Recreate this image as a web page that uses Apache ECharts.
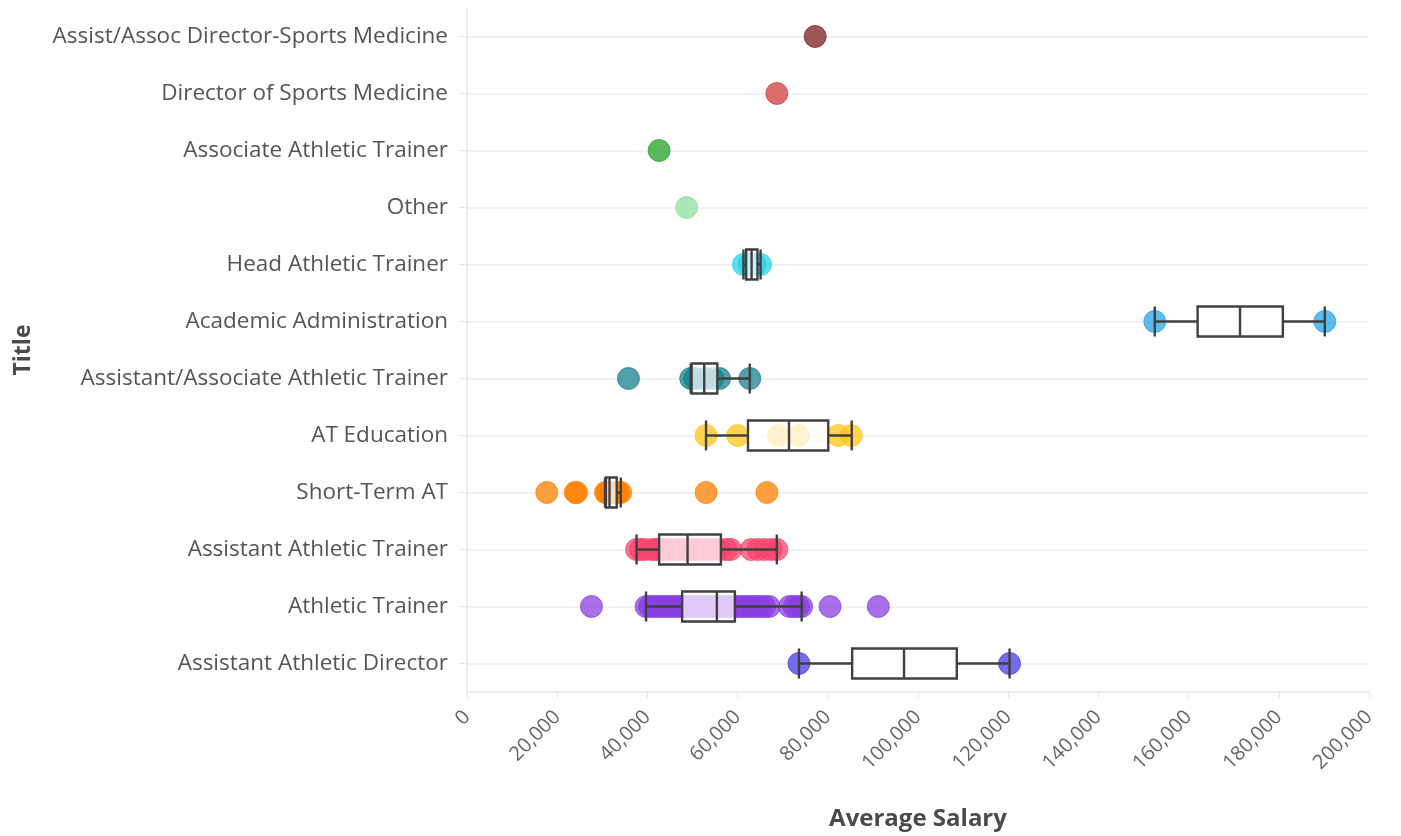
<!DOCTYPE html>
<html>
<head>
<meta charset="utf-8">
<style>
  html, body { margin: 0; padding: 0; background: #fff; }
  #main { width: 1401px; height: 836px; }
</style>
<script src="https://cdn.jsdelivr.net/npm/echarts@6/dist/echarts.min.js"></script>
</head>
<body>
<div id="main"></div>
<script>
// job titles, top to bottom
var titles = [
  'Assist/Assoc Director-Sports Medicine',
  'Director of Sports Medicine',
  'Associate Athletic Trainer',
  'Other',
  'Head Athletic Trainer',
  'Academic Administration',
  'Assistant/Associate Athletic Trainer',
  'AT Education',
  'Short-Term AT',
  'Assistant Athletic Trainer',
  'Athletic Trainer',
  'Assistant Athletic Director'
];

// average salary of each school, one list per title
var assocDirSportsMed = [77200];
var dirSportsMed = [68700];
var assocAT = [42600];
var otherTitle = [48700];
var headAT = [61300, 62500, 63100, 63900, 65100];
var academicAdmin = [152500, 190200];
var asstAssocAT = [35800, 49600, 50500, 52600, 54500, 56000, 62700];
var atEducation = [53000, 60000, 69000, 73500, 82300, 85200];
var shortTermAT = [17700, 24000, 24300, 30700, 31000, 31300, 31600, 32000, 33000, 33600, 34100, 53000, 66500];
var asstAT = [37600, 38500, 39500, 41000, 42000, 42600, 43500, 44500, 45500, 46500, 47500, 48500, 49000,
  50000, 51000, 52000, 53000, 54000, 55000, 56000, 57500, 58500, 63000, 64500, 66000, 67500, 68700];
var athleticTrainer = [27600, 39700, 40500, 41500, 42500, 43500, 44500, 45500, 46500, 47500, 48000, 49000,
  50000, 51000, 52000, 53000, 54000, 55000, 55500, 56000, 57000, 58000, 59000, 60000, 61000, 62000,
  63000, 64000, 65000, 66000, 67000, 71500, 72500, 73500, 74200, 80500, 91200];
var asstAD = [73600, 120300];

// box figures: [low whisker, Q1, median, Q3, high whisker]
var headATBox = [61300, 61900, 63100, 64400, 65100];
var academicAdminBox = [152500, 162000, 171400, 180900, 190200];
var asstAssocATBox = [49600, 49800, 52600, 55500, 62700];
var atEducationBox = [53000, 62300, 71400, 80100, 85300];
var shortTermATBox = [30600, 30800, 31600, 33200, 34100];
var asstATBox = [37600, 42600, 48900, 56300, 68700];
var athleticTrainerBox = [39700, 47700, 55400, 59400, 74200];
var asstADBox = [73600, 85400, 96900, 108600, 120300];

var xTicks = [0, 200000, 20000];  // min, max, step

(function () {
  var points = [assocDirSportsMed, dirSportsMed, assocAT, otherTitle, headAT, academicAdmin,
    asstAssocAT, atEducation, shortTermAT, asstAT, athleticTrainer, asstAD];
  var boxes = [null, null, null, null, headATBox, academicAdminBox,
    asstAssocATBox, atEducationBox, shortTermATBox, asstATBox, athleticTrainerBox, asstADBox];
  var colors = ['#7d1f1f', '#cf3c3f', '#25a025', '#8fe09a', '#2cd3e6', '#27a3e6',
    '#17808d', '#ffc41a', '#ff8000', '#f7466d', '#8a3fe0', '#4a3be6'];

  var myChart = echarts.init(document.getElementById('main'));

  var series = [];
  // one scatter per title
  titles.forEach(function (t, i) {
    series.push({
      name: t,
      type: 'scatter',
      symbolSize: 22,
      z: 2,
      itemStyle: {
        color: colors[i],
        opacity: 0.75,
        borderColor: colors[i],
        borderWidth: 1
      },
      data: points[i].map(function (v) { return [v, t]; })
    });
  });

  // boxes sit on top of the dots, white see-through fill
  series.push({
    type: 'boxplot',
    z: 3,
    boxWidth: [30, 30],
    itemStyle: {
      color: 'rgba(255,255,255,0.72)',
      borderColor: '#404040',
      borderWidth: 2.4
    },
    data: boxes.map(function (b) { return b ? b : ['-', '-', '-', '-', '-']; })
  });

  var option = {
    animation: false,
    textStyle: { fontFamily: 'Open Sans' },
    grid: {
      left: 467,
      right: 32,
      top: 8,
      bottom: 143,
      containLabel: false
    },
    xAxis: {
      type: 'value',
      min: xTicks[0],
      max: xTicks[1],
      interval: xTicks[2],
      name: 'Average Salary',
      nameLocation: 'middle',
      nameGap: 115,
      nameTextStyle: { fontSize: 24, fontWeight: 'bold', color: '#4a4a4a' },
      axisLine: { show: true, lineStyle: { color: '#e6e6e6', width: 1.5 } },
      axisTick: { show: true, length: 6, lineStyle: { color: '#e6e6e6' } },
      axisLabel: {
        rotate: 45,
        fontSize: 20,
        color: '#666',
        margin: 22,
        formatter: function (v) { return v.toLocaleString('en-US'); }
      },
      splitLine: { show: false }
    },
    yAxis: {
      type: 'category',
      inverse: true,
      data: titles,
      name: 'Title',
      nameLocation: 'middle',
      nameRotate: 90,
      nameGap: 432,
      nameTextStyle: { fontSize: 23, fontWeight: 'bold', color: '#4a4a4a' },
      axisLine: { show: true, lineStyle: { color: '#e6e6e6', width: 1.5 } },
      axisTick: { show: true, alignWithLabel: true, length: 8, lineStyle: { color: '#e6e6e6' } },
      axisLabel: { fontSize: 22.5, color: '#555', margin: 19 },
      splitLine: { show: true, alignWithLabel: true, lineStyle: { color: '#eeeeee', width: 1.5 } }
    },
    series: series
  };

  myChart.setOption(option);
  window.addEventListener('resize', function () {
    myChart.resize();
  });
})();
</script>
</body>
</html>
